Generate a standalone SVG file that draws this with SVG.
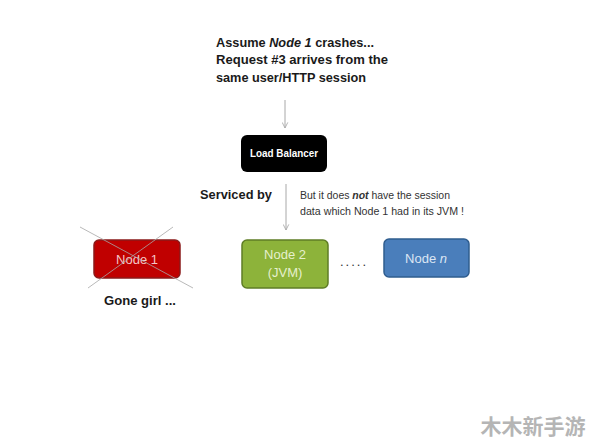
<svg xmlns="http://www.w3.org/2000/svg" width="594" height="444" viewBox="0 0 594 444">
<defs>
<style>
.t{font-family:"Liberation Sans","Noto Sans",sans-serif;}
.b{font-weight:bold;fill:#1a1a1a;}
.ln{stroke:#a8a8a8;stroke-width:1;fill:none;}
.node{stroke-width:1.5;}
.lbl{font-family:"Liberation Sans","Noto Sans",sans-serif;font-size:13px;text-anchor:middle;}
</style>
<marker id="ah" viewBox="0 0 10 10" refX="9" refY="5" markerWidth="7" markerHeight="7" orient="auto">
<path d="M1,1 L9,5 L1,9" fill="none" stroke="#a8a8a8" stroke-width="1.2"/>
</marker>
</defs>
<rect width="594" height="444" fill="#ffffff"/>
<g id="title">
<text class="t b" font-size="13" x="216" y="47" textLength="158" lengthAdjust="spacingAndGlyphs">Assume <tspan font-style="italic">Node 1</tspan> crashes...</text>
<text class="t b" font-size="13" x="216" y="64" textLength="172" lengthAdjust="spacingAndGlyphs">Request #3 arrives from the</text>
<text class="t b" font-size="13" x="216" y="82" textLength="150" lengthAdjust="spacingAndGlyphs">same user/HTTP session</text>
</g>
<g id="connectors">
<line class="ln" x1="285" y1="100" x2="285" y2="128" marker-end="url(#ah)"/>
<line class="ln" x1="286" y1="184" x2="286" y2="230" marker-end="url(#ah)"/>
</g>
<g id="load-balancer">
<rect x="241" y="135" width="86" height="37" rx="6" fill="#000000"/>
<text class="t" x="284" y="157" font-size="10.5" font-weight="bold" fill="#ffffff" text-anchor="middle" textLength="68" lengthAdjust="spacingAndGlyphs">Load Balancer</text>
</g>
<g id="serviced-by">
<text class="t b" font-size="13" x="200" y="199" textLength="72" lengthAdjust="spacingAndGlyphs">Serviced by</text>
</g>
<g id="note">
<text class="t" font-size="10" fill="#333333" x="300" y="199" textLength="150" lengthAdjust="spacingAndGlyphs">But it does <tspan font-weight="bold" font-style="italic">not</tspan> have the session</text>
<text class="t" font-size="10" fill="#333333" x="300" y="215" textLength="164" lengthAdjust="spacingAndGlyphs">data which Node 1 had in its JVM !</text>
</g>
<g id="node1">
<rect class="node" x="94" y="240" width="86" height="38" rx="5" fill="#c00000" stroke="#8b1a1a"/>
<text class="lbl" x="137" y="264" fill="#f4c7c7">Node 1</text>
<line x1="80" y1="227" x2="193" y2="288" stroke="#a8a8a8" stroke-width="1" stroke-opacity="0.8"/>
<line x1="173" y1="227" x2="88" y2="288" stroke="#a8a8a8" stroke-width="1" stroke-opacity="0.8"/>
<text class="t b" font-size="13" x="140" y="305" text-anchor="middle" textLength="72" lengthAdjust="spacingAndGlyphs">Gone girl ...</text>
</g>
<g id="node2">
<rect class="node" x="242" y="240" width="86" height="48" rx="5" fill="#8db33a" stroke="#5f7d26"/>
<text class="lbl" x="285" y="259" fill="#e6f0cc">Node 2</text>
<text class="lbl" x="285" y="277" fill="#e6f0cc">(JVM)</text>
</g>
<g id="dots">
<text class="t" font-size="13" x="340" y="266" fill="#333333" letter-spacing="2">.....</text>
</g>
<g id="noden">
<rect class="node" x="384" y="239" width="85" height="38" rx="5" fill="#4a7ebb" stroke="#2f5d8f"/>
<text class="lbl" x="426" y="263" fill="#dbe6f4">Node <tspan font-style="italic">n</tspan></text>
</g>
<g id="watermark">
<text x="533" y="434" font-family="'Noto Sans CJK SC',sans-serif" font-weight="bold" font-size="21" fill="#b5b5b5" text-anchor="middle">木木新手游</text>
</g>
</svg>
